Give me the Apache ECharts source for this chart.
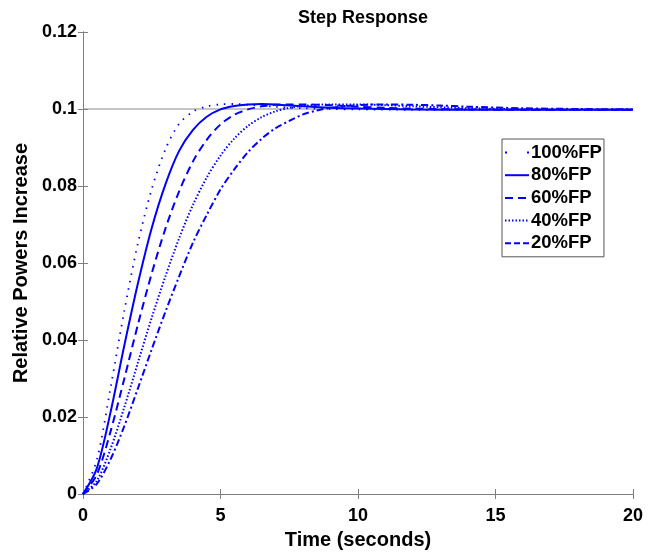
<!DOCTYPE html>
<html>
<head>
<meta charset="utf-8">
<script src="https://cdn.jsdelivr.net/npm/echarts@6/dist/echarts.min.js"></script>
<style>
  html, body { margin: 0; padding: 0; background: #fff; }
  #main { width: 661px; height: 555px; }
</style>
</head>
<body>
<div id="main"></div>
<script>
// step response curves
var t100 = [0, 0.5, 1, 1.5, 2, 2.5, 3, 3.5, 4, 4.5, 5, 5.5, 6, 7, 8, 9, 10, 12, 14, 16, 18, 20];
var y100 = [0, 0.0088, 0.0275, 0.0475, 0.0652, 0.0792, 0.0896, 0.0962, 0.0993, 0.1007, 0.1012, 0.1013, 0.1011, 0.1006, 0.1002, 0.1, 0.0999, 0.0998, 0.0998, 0.0998, 0.0998, 0.0998];

var t80 = [0, 0.5, 1, 1.5, 2, 2.5, 3, 3.5, 4, 4.5, 5, 5.5, 6, 6.5, 7, 8, 9, 10, 12, 14, 16, 18, 20];
var y80 = [0, 0.0066, 0.0212, 0.0385, 0.0548, 0.0691, 0.0805, 0.0892, 0.0946, 0.098, 0.0999, 0.1008, 0.1012, 0.1013, 0.1012, 0.1007, 0.1003, 0.1001, 0.0999, 0.0998, 0.0998, 0.0998, 0.0998];

var t60 = [0, 0.5, 1, 1.5, 2, 2.5, 3, 3.5, 4, 4.5, 5, 5.5, 6, 6.5, 7, 7.5, 8, 9, 10, 11, 12, 14, 16, 18, 20];
var y60 = [0, 0.005, 0.0162, 0.0299, 0.0441, 0.0573, 0.069, 0.0787, 0.0864, 0.092, 0.096, 0.0985, 0.0999, 0.1007, 0.1011, 0.1012, 0.1012, 0.101, 0.1006, 0.1003, 0.1001, 0.0999, 0.0998, 0.0998, 0.0998];

var t40 = [0, 0.5, 1, 1.5, 2, 2.5, 3, 3.5, 4, 4.5, 5, 5.5, 6, 6.5, 7, 7.5, 8, 9, 10, 11, 12, 14, 16, 18, 20];
var y40 = [0, 0.0034, 0.0117, 0.0225, 0.0342, 0.0458, 0.0566, 0.0665, 0.0751, 0.0822, 0.0879, 0.0923, 0.0956, 0.0979, 0.0994, 0.1003, 0.1008, 0.1012, 0.1012, 0.101, 0.1007, 0.1002, 0.0999, 0.0998, 0.0998];

var t20 = [0, 0.5, 1, 1.5, 2, 2.5, 3, 3.5, 4, 4.5, 5, 5.5, 6, 6.5, 7, 7.5, 8, 8.5, 9, 10, 11, 12, 13, 14, 16, 18, 20];
var y20 = [0, 0.0026, 0.009, 0.0176, 0.0275, 0.0376, 0.0474, 0.0566, 0.0653, 0.0725, 0.0791, 0.0843, 0.0888, 0.0923, 0.095, 0.0969, 0.0986, 0.0996, 0.1003, 0.101, 0.1012, 0.1011, 0.1009, 0.1006, 0.1002, 0.1, 0.0999];

var names = ['100%FP', '80%FP', '60%FP', '40%FP', '20%FP'];
var xTicks = [0, 5, 10, 15, 20];
var yTicks = [0, 0.02, 0.04, 0.06, 0.08, 0.1, 0.12];
var refLevel = [0.1, 0.1];

function pairs(xs, ys) {
  var out = [];
  for (var i = 0; i < xs.length; i++) out.push([xs[i], ys[i]]);
  return out;
}

var blue = '#0000ff';
var axisGray = '#7f7f7f';
var font = 'Liberation Sans, Arial, sans-serif';
var labelFont = { color: '#000', fontSize: 18, fontWeight: 'bold', fontFamily: font };
var nameFont = { color: '#000', fontSize: 20, fontWeight: 'bold', fontFamily: font };

var chart = echarts.init(document.getElementById('main'), null, { renderer: 'canvas' });

function curve(name, xs, ys, type, width) {
  return {
    name: name,
    type: 'line',
    data: pairs(xs, ys),
    showSymbol: false,
    symbol: 'none',
    smooth: 0.3,
    lineStyle: { color: blue, width: width, type: type },
    itemStyle: { color: blue },
    z: 3
  };
}

var option = {
  animation: false,
  backgroundColor: '#fff',
  title: {
    text: 'Step Response',
    left: 358,
    textAlign: 'center',
    top: 4,
    textStyle: { color: '#000', fontSize: 18, fontWeight: 'bold', fontFamily: font }
  },
  grid: { left: 83, right: 28, top: 32, bottom: 59 },
  legend: {
    data: [
      { name: names[0], lineStyle: { type: [2, 20], width: 2 } },
      { name: names[1] },
      { name: names[2] },
      { name: names[3] },
      { name: names[4], lineStyle: { type: [6, 3] } }
    ],
    orient: 'vertical',
    left: 502,
    top: 139,
    padding: [4, 2, 4, 2],
    itemWidth: 24,
    itemHeight: 14,
    itemGap: 3.7,
    itemStyle: { opacity: 0 },
    backgroundColor: '#fff',
    borderColor: '#555',
    borderWidth: 1,
    borderRadius: 0,
    textStyle: { color: '#000', fontSize: 18.5, lineHeight: 18, fontWeight: 'bold', fontFamily: font, padding: [0, 0, 0, -3] }
  },
  xAxis: [{
    type: 'value',
    min: xTicks[0],
    max: xTicks[xTicks.length - 1],
    interval: 5,
    name: 'Time (seconds)',
    nameLocation: 'middle',
    nameGap: 36,
    nameTextStyle: nameFont,
    axisLine: { show: true, lineStyle: { color: axisGray, width: 1 } },
    axisTick: { show: true, inside: true, length: 5, lineStyle: { color: axisGray } },
    axisLabel: Object.assign({ margin: 13 }, labelFont),
    splitLine: { show: false }
  }, {
    type: 'value',
    position: 'top',
    min: xTicks[0],
    max: xTicks[xTicks.length - 1],
    interval: 5,
    axisLine: { show: true, lineStyle: { color: axisGray, width: 1 } },
    axisTick: { show: true, inside: true, length: 5, lineStyle: { color: axisGray } },
    axisLabel: { show: false },
    splitLine: { show: false }
  }],
  yAxis: [{
    type: 'value',
    min: yTicks[0],
    max: yTicks[yTicks.length - 1],
    interval: 0.02,
    name: 'Relative Powers Increase',
    nameLocation: 'middle',
    nameGap: 48,
    nameTextStyle: nameFont,
    axisLine: { show: true, lineStyle: { color: axisGray, width: 1 } },
    axisTick: { show: true, inside: true, length: 5, lineStyle: { color: axisGray } },
    axisLabel: Object.assign({ margin: 6 }, labelFont),
    splitLine: { show: false }
  }, {
    type: 'value',
    position: 'right',
    min: yTicks[0],
    max: yTicks[yTicks.length - 1],
    interval: 0.02,
    axisLine: { show: true, lineStyle: { color: axisGray, width: 1 } },
    axisTick: { show: true, inside: true, length: 5, lineStyle: { color: axisGray } },
    axisLabel: { show: false },
    splitLine: { show: false }
  }],
  series: [
    {
      name: 'ref',
      type: 'line',
      data: pairs([xTicks[0], xTicks[xTicks.length - 1]], refLevel),
      symbol: 'none',
      silent: true,
      lineStyle: { color: '#8c8c8c', width: 1 },
      z: 2
    },
    curve(names[0], t100, y100, [1.5, 6], 1.8),
    curve(names[1], t80, y80, 'solid', 2),
    curve(names[2], t60, y60, [8, 5], 2),
    curve(names[3], t40, y40, [1.5, 2], 2),
    curve(names[4], t20, y20, [7, 3, 2, 3], 2)
  ]
};

chart.setOption(option);
</script>
</body>
</html>
